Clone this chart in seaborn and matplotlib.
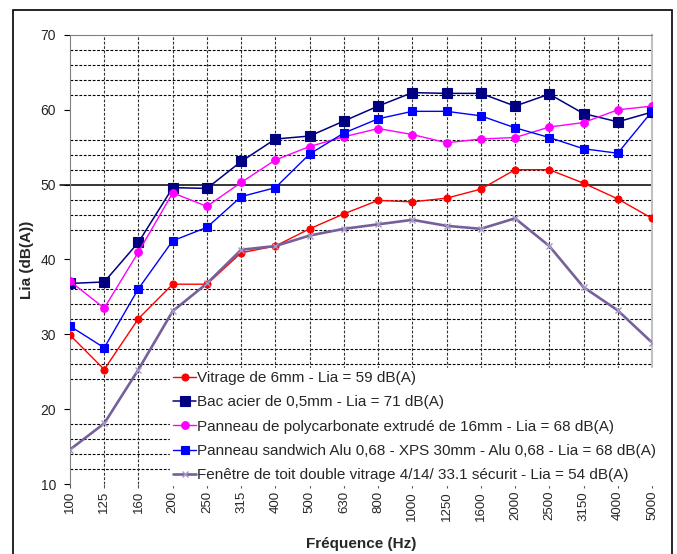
import numpy as np
import pandas as pd
import seaborn as sns
import matplotlib.pyplot as plt
from matplotlib.patches import Rectangle

# ---------------------------------------------------------
# DATA
# ---------------------------------------------------------
freqs = ["100", "125", "160", "200", "250", "315", "400", "500", "630",
         "800", "1000", "1250", "1600", "2000", "2500", "3150", "4000", "5000"]

vitrage_6mm = [29.9, 25.3, 32.1, 36.7, 36.7, 40.9, 41.8, 44.1, 46.1,
               47.9, 47.7, 48.2, 49.4, 52.0, 52.0, 50.2, 48.1, 45.5]
bac_acier = [36.8, 37.0, 42.3, 49.6, 49.5, 53.1, 56.1, 56.5, 58.5,
             60.5, 62.3, 62.2, 62.2, 60.5, 62.1, 59.5, 58.4, 59.7]
polycarbonate = [37.1, 33.5, 41.0, 48.9, 47.1, 50.3, 53.3, 55.1, 56.4,
                 57.5, 56.7, 55.6, 56.1, 56.3, 57.7, 58.3, 60.0, 60.5]
sandwich = [31.1, 28.2, 36.1, 42.5, 44.3, 48.4, 49.6, 54.1, 56.9,
            58.8, 59.8, 59.8, 59.2, 57.6, 56.3, 54.8, 54.2, 59.8]
fenetre = [14.6, 18.1, 25.3, 33.1, 36.8, 41.3, 41.8, 43.2, 44.1,
           44.7, 45.3, 44.5, 44.1, 45.5, 41.8, 36.3, 33.2, 28.9]

labels = ["Vitrage de 6mm - Lia = 59 dB(A)",
          "Bac acier de 0,5mm - Lia = 71 dB(A)",
          "Panneau de polycarbonate extrudé de 16mm - Lia = 68 dB(A)",
          "Panneau sandwich Alu 0,68 - XPS 30mm - Alu 0,68 - Lia = 68 dB(A)",
          "Fenêtre de toit double vitrage 4/14/ 33.1 sécurit - Lia = 54 dB(A)"]

y_ticks = [10, 20, 30, 40, 50, 60, 70]
# dashed horizontal gridlines as they appear in the original
grid_dashed = [12, 14, 16, 18, 24, 26, 28, 32, 34, 36,
               44, 46, 48, 52, 54, 56, 62, 64, 66, 68]

# ---------------------------------------------------------
# STYLE
# ---------------------------------------------------------
sns.set_style("white")
plt.rcParams['font.family'] = ['Liberation Sans', 'DejaVu Sans']

series = [
    (vitrage_6mm, "#FF0000", "o", 5.0, 1.0, "#FF0000"),
    (bac_acier, "#000080", "s", 7.0, 1.1, "#000080"),
    (polycarbonate, "#FF00FF", "o", 5.5, 1.0, "#FF00FF"),
    (sandwich, "#0000FF", "s", 5.5, 1.0, "#0000FF"),
    (fenetre, "#76609C", "x", 4.5, 1.9, "#A898C8"),
]

fig = plt.figure(figsize=(6.77, 5.54), dpi=100)
ax = fig.add_axes([70 / 677, 1 - 484 / 554, 582 / 677, 449 / 554])

# gridlines
for g in grid_dashed:
    ax.axhline(g, color="black", lw=0.8, ls=(0, (2.5, 1.5)), zorder=1)
ax.axhline(50, xmin=-0.018, color="black", lw=1.1, zorder=1, clip_on=False)
for i in range(1, len(freqs) - 1):
    ax.axvline(i, color="#333333", lw=0.8, ls=(0, (2.5, 1.5)), zorder=1)

for (vals, col, mk, ms, lw, mec), lab in zip(series, labels):
    sns.lineplot(x=freqs, y=vals, ax=ax, color=col, marker=mk, markersize=ms,
                 linewidth=lw, markeredgecolor=mec, markerfacecolor=mec,
                 markeredgewidth=0.8 if mk != "x" else 1.0,
                 label=lab, sort=False, zorder=3)

ax.set_xlim(0, len(freqs) - 1)
ax.set_ylim(10, 70)
ax.set_yticks(y_ticks)
ax.set_xticks(range(len(freqs)))
ax.set_xticklabels(freqs, rotation=90, fontsize=9.5)
ax.tick_params(axis="y", labelsize=10, length=4, width=0.8, pad=6, left=True, color="black")
ax.tick_params(axis="x", length=3, width=0.8, pad=2, bottom=True, color="#555555")

for s in ["top", "right", "left", "bottom"]:
    ax.spines[s].set_visible(True)
ax.spines["top"].set_color("#808080")
ax.spines["right"].set_color("#C0C0C0")
ax.spines["right"].set_linewidth(1.5)
ax.spines["left"].set_color("#808080")
ax.spines["bottom"].set_visible(False)

ax.set_xlabel("Fréquence (Hz)", fontsize=11, fontweight="bold", labelpad=12)
ax.set_ylabel("Lia (dB(A))", fontsize=11, fontweight="bold", labelpad=5)

leg = ax.legend(loc="upper left", bbox_to_anchor=(0.172, 0.258), frameon=True,
                fontsize=11, handlelength=1.5, handletextpad=0.05,
                labelspacing=0.67, borderpad=0.2, borderaxespad=0)
leg.get_frame().set_edgecolor("white")
leg.get_frame().set_facecolor("white")
leg.get_frame().set_alpha(1)
leg.get_frame().set_boxstyle("square", pad=0)

# outer chart frame
fig.patches.append(Rectangle((13 / 677, -0.02), 659 / 677, 0.02 + 1 - 10 / 554,
                             transform=fig.transFigure, fill=False,
                             edgecolor="black", lw=1.2))

fig.savefig("out.png", dpi=100)
